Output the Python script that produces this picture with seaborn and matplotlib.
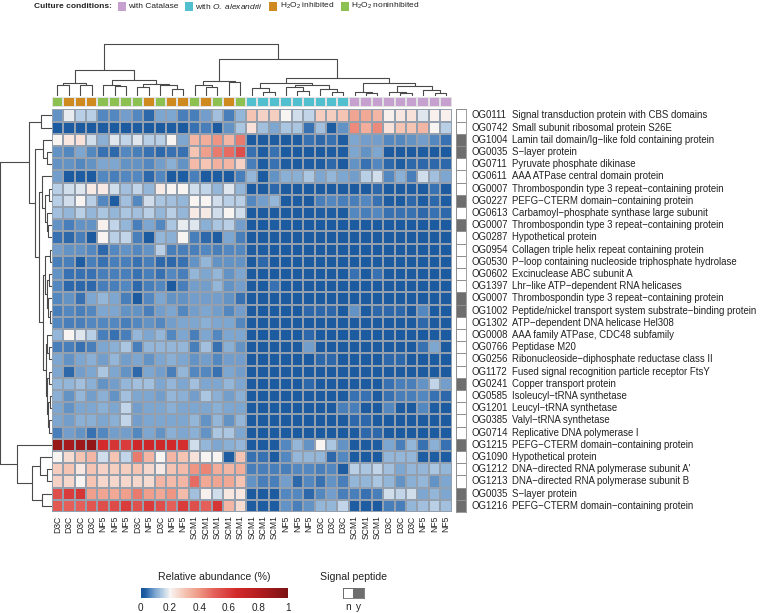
import numpy as np
import pandas as pd
import matplotlib
matplotlib.use("Agg")
import matplotlib.pyplot as plt
import matplotlib.transforms as mtransforms
from matplotlib.patches import Rectangle
from matplotlib.colors import LinearSegmentedColormap, ListedColormap
import seaborn as sns

# ---------------- data ----------------
sample_labels = ["D3C", "D3C", "D3C", "D3C", "NF5", "NF5", "NF5", "D3C", "NF5", "D3C", "NF5", "NF5",
                 "SCM1", "SCM1", "SCM1", "SCM1", "SCM1",
                 "SCM1", "SCM1", "SCM1", "NF5", "NF5", "NF5", "D3C", "D3C", "D3C",
                 "SCM1", "SCM1", "SCM1", "D3C", "D3C", "D3C", "NF5", "NF5", "NF5"]
# 0 = with Catalase, 1 = with O. alexandrii, 2 = H2O2 inhibited, 3 = H2O2 noninhibited
sample_condition = [3, 2, 2, 2, 3, 3, 3, 3, 2, 3, 2, 2,
                    3, 2, 3, 2, 3,
                    1, 1, 1, 1, 1, 1, 1, 1, 1,
                    0, 0, 0, 0, 0, 0, 0, 0, 0]
condition_names = ["with Catalase", r"with $\mathit{O.\ alexandrii}$", r"H$_2$O$_2$ inhibited", r"H$_2$O$_2$ noninhibited"]
condition_colors = ["#c6a1cf", "#52bfcf", "#cf8a1f", "#8cc152"]

og_ids = ["OG0111", "OG0742", "OG1004", "OG0035", "OG0711", "OG0611", "OG0007", "OG0227", "OG0613",
          "OG0007", "OG0287", "OG0954", "OG0530", "OG0602", "OG1397", "OG0007", "OG1002", "OG1302",
          "OG0008", "OG0766", "OG0256", "OG1172", "OG0241", "OG0585", "OG1201", "OG0385", "OG0714",
          "OG1215", "OG1090", "OG1212", "OG1213", "OG0035", "OG1216"]
og_desc = ["Signal transduction protein with CBS domains",
           "Small subunit ribosomal protein S26E",
           "Lamin tail domain/Ig\u2212like fold containing protein",
           "S\u2212layer protein",
           "Pyruvate phosphate dikinase",
           "AAA ATPase central domain protein",
           "Thrombospondin type 3 repeat\u2212containing protein",
           "PEFG\u2212CTERM domain\u2212containing protein",
           "Carbamoyl\u2212phosphate synthase large subunit",
           "Thrombospondin type 3 repeat\u2212containing protein",
           "Hypothetical protein",
           "Collagen triple helix repeat containing protein",
           "P\u2212loop containing nucleoside triphosphate hydrolase",
           "Excinuclease ABC subunit A",
           "Lhr\u2212like ATP\u2212dependent RNA helicases",
           "Thrombospondin type 3 repeat\u2212containing protein",
           "Peptide/nickel transport system substrate\u2212binding protein",
           "ATP\u2212dependent DNA helicase Hel308",
           "AAA family ATPase, CDC48 subfamily",
           "Peptidase M20",
           "Ribonucleoside\u2212diphosphate reductase class II",
           "Fused signal recognition particle receptor FtsY",
           "Copper transport protein",
           "Isoleucyl\u2212tRNA synthetase",
           "Leucyl\u2212tRNA synthetase",
           "Valyl\u2212tRNA synthetase",
           "Replicative DNA polymerase I",
           "PEFG\u2212CTERM domain\u2212containing protein",
           "Hypothetical protein",
           "DNA\u2212directed RNA polymerase subunit A'",
           "DNA\u2212directed RNA polymerase subunit B",
           "S\u2212layer protein",
           "PEFG\u2212CTERM domain\u2212containing protein"]
signal_peptide = [0, 0, 1, 1, 0, 0, 0, 1, 0, 1, 0, 0, 0, 0, 0, 1, 1, 0, 0, 0, 0, 0, 1, 0, 0, 0, 0,
                  1, 0, 0, 0, 1, 1]

# relative abundance (in hundredths), rows in display order
rows_top = [
    [8, 19, 15, 15, 7, 7, 9, 7, 4, 10, 10, 6, 6, 9, 13, 6, 12, 30, 27, 28, 20, 17, 16, 28, 28, 30, 37, 36, 33, 21, 23, 24, 18, 21, 21],
    [2, 2, 2, 2, 3, 2, 2, 3, 2, 2, 3, 2, 5, 6, 2, 8, 14, 24, 13, 10, 14, 14, 5, 13, 3, 8, 42, 35, 42, 24, 30, 30, 33, 20, 15],
    [20, 23, 24, 17, 11, 18, 16, 18, 15, 15, 20, 10, 33, 35, 40, 33, 45, 2, 2, 3, 2, 3, 5, 4, 5, 3, 10, 9, 9, 7, 7, 8, 9, 7, 5],
    [8, 7, 10, 7, 5, 4, 7, 6, 5, 4, 5, 5, 30, 38, 45, 48, 55, 5, 3, 5, 2, 2, 2, 2, 3, 3, 10, 8, 10, 2, 2, 2, 3, 2, 2],
    [8, 8, 7, 8, 10, 10, 8, 8, 7, 9, 11, 8, 32, 30, 34, 33, 27, 6, 3, 5, 3, 2, 3, 3, 4, 2, 8, 5, 7, 4, 3, 4, 4, 4, 4],
    [9, 2, 3, 2, 7, 6, 7, 7, 4, 7, 2, 3, 6, 2, 3, 2, 6, 12, 2, 8, 11, 11, 14, 10, 12, 10, 9, 15, 17, 7, 11, 6, 17, 13, 10],
]
rows_mid = [
    [15, 17, 18, 22, 22, 17, 13, 16, 12, 22, 20, 20, 17, 16, 12, 18, 12, 2, 2, 4, 2, 2, 2, 2, 2, 2, 2, 2, 4, 2, 2, 3, 2, 5, 2],
    [15, 17, 20, 15, 7, 3, 13, 7, 17, 14, 13, 12, 20, 20, 17, 15, 15, 7, 9, 12, 2, 3, 2, 6, 7, 6, 6, 7, 5, 3, 2, 4, 3, 4, 3],
    [13, 12, 15, 12, 14, 12, 14, 13, 15, 12, 15, 12, 22, 22, 17, 20, 17, 2, 2, 2, 2, 2, 2, 3, 3, 2, 7, 6, 7, 5, 5, 5, 4, 5, 4],
    [8, 6, 8, 8, 21, 16, 12, 6, 10, 7, 14, 19, 18, 11, 14, 15, 9, 2, 2, 3, 2, 2, 2, 2, 2, 2, 2, 2, 2, 2, 2, 2, 2, 2, 2],
    [5, 4, 6, 2, 20, 15, 16, 6, 2, 12, 11, 20, 6, 4, 3, 10, 6, 2, 2, 2, 2, 2, 2, 2, 2, 2, 2, 2, 2, 2, 2, 2, 2, 2, 2],
    [9, 8, 8, 7, 4, 7, 8, 7, 8, 15, 6, 6, 6, 7, 6, 7, 7, 3, 3, 2, 2, 2, 2, 2, 2, 2, 2, 2, 2, 2, 2, 2, 2, 2, 2],
    [6, 6, 3, 6, 5, 6, 6, 5, 6, 4, 4, 5, 8, 12, 8, 8, 8, 2, 4, 2, 2, 2, 2, 2, 2, 2, 2, 2, 2, 2, 2, 2, 2, 2, 2],
    [8, 5, 5, 5, 6, 6, 6, 5, 6, 5, 7, 6, 12, 10, 12, 8, 10, 2, 2, 2, 2, 2, 2, 2, 2, 2, 5, 2, 5, 2, 2, 2, 2, 2, 2],
    [7, 4, 4, 4, 6, 6, 7, 4, 6, 7, 2, 6, 9, 9, 12, 8, 9, 2, 2, 5, 2, 2, 2, 2, 2, 2, 2, 2, 2, 2, 2, 2, 2, 2, 2],
    [7, 8, 5, 10, 12, 10, 6, 2, 7, 10, 8, 8, 9, 9, 9, 8, 5, 2, 2, 2, 2, 2, 2, 2, 2, 2, 2, 2, 2, 2, 2, 2, 2, 2, 2],
    [6, 7, 6, 7, 10, 10, 8, 8, 6, 9, 10, 7, 9, 10, 9, 7, 9, 2, 2, 2, 2, 2, 4, 4, 4, 2, 8, 2, 4, 4, 4, 2, 7, 2, 2],
    [7, 6, 6, 7, 7, 7, 6, 7, 8, 7, 9, 10, 10, 11, 10, 10, 7, 2, 2, 2, 2, 2, 2, 2, 2, 2, 2, 2, 2, 2, 2, 2, 4, 2, 2],
    [12, 20, 18, 15, 6, 5, 6, 12, 10, 12, 7, 10, 6, 10, 7, 10, 10, 2, 2, 2, 2, 2, 4, 2, 2, 2, 2, 2, 2, 2, 2, 2, 2, 2, 2],
    [6, 6, 5, 6, 10, 11, 14, 6, 12, 12, 12, 12, 6, 13, 5, 11, 8, 2, 2, 2, 2, 2, 9, 2, 2, 2, 2, 2, 2, 2, 2, 2, 5, 10, 2],
    [10, 8, 10, 11, 9, 12, 9, 10, 8, 10, 11, 10, 8, 9, 7, 9, 9, 2, 2, 2, 2, 2, 2, 4, 4, 2, 2, 2, 2, 4, 4, 2, 2, 2, 2],
    [10, 4, 9, 10, 14, 10, 8, 4, 10, 9, 6, 12, 7, 7, 5, 10, 9, 2, 2, 2, 2, 2, 2, 2, 2, 2, 2, 2, 2, 2, 2, 2, 2, 2, 2],
    [12, 12, 13, 11, 8, 9, 12, 13, 13, 10, 12, 10, 13, 10, 10, 12, 10, 2, 2, 2, 2, 2, 4, 2, 2, 2, 2, 2, 2, 5, 6, 6, 8, 16, 9],
    [11, 8, 12, 9, 11, 8, 13, 10, 10, 9, 12, 11, 9, 14, 11, 9, 11, 2, 2, 2, 2, 2, 2, 2, 2, 2, 5, 5, 2, 5, 6, 6, 7, 5, 4],
    [10, 8, 10, 10, 11, 10, 16, 9, 10, 10, 11, 10, 10, 10, 11, 10, 10, 2, 2, 2, 2, 2, 2, 2, 2, 6, 6, 2, 2, 7, 2, 2, 7, 3, 2],
    [10, 9, 11, 11, 10, 11, 16, 9, 10, 10, 10, 10, 12, 8, 12, 8, 12, 2, 2, 2, 2, 2, 2, 2, 2, 2, 4, 4, 2, 2, 2, 2, 2, 2, 2],
    [6, 9, 8, 5, 7, 9, 9, 7, 10, 8, 11, 10, 11, 8, 14, 14, 10, 2, 2, 2, 2, 2, 2, 2, 2, 2, 2, 4, 4, 2, 2, 2, 2, 2, 2],
]
rows_bottom = [
    [90, 85, 88, 92, 65, 62, 60, 68, 68, 67, 66, 64, 17, 12, 10, 11, 12, 2, 2, 2, 7, 12, 8, 20, 14, 8, 2, 2, 3, 10, 6, 12, 5, 11, 5],
    [20, 25, 30, 33, 17, 30, 16, 45, 33, 20, 33, 30, 24, 20, 20, 3, 30, 5, 5, 2, 7, 12, 12, 12, 4, 7, 2, 2, 2, 12, 12, 12, 3, 3, 3],
    [28, 30, 23, 30, 27, 28, 28, 30, 26, 22, 30, 32, 40, 43, 35, 33, 35, 6, 6, 6, 6, 7, 7, 6, 7, 3, 15, 14, 16, 13, 10, 12, 12, 14, 12],
    [27, 26, 20, 30, 26, 26, 26, 26, 25, 33, 32, 33, 48, 36, 37, 36, 30, 8, 6, 6, 9, 4, 7, 5, 8, 6, 12, 12, 14, 12, 8, 11, 12, 8, 10],
    [55, 60, 62, 38, 37, 36, 38, 45, 38, 36, 40, 32, 13, 21, 17, 23, 23, 2, 2, 2, 7, 7, 4, 7, 9, 6, 6, 5, 6, 17, 16, 17, 10, 12, 10],
    [52, 50, 50, 53, 55, 56, 60, 54, 60, 55, 50, 60, 55, 50, 62, 33, 25, 3, 3, 3, 8, 6, 8, 12, 12, 16, 3, 3, 2, 6, 6, 12, 13, 15, 13],
]

# dendrogram trees: (merge height, left, right); leaves are indices
col_tree = (51.7,
            (25.7, (13.0, (10.7, 0, 1), (10.7, 2, 3)),
                   (15.7, (10.7, 4, (9.7, 5, 6)), (11.7, (9.0, 7, 8), (10.7, 9, (6.3, 10, 11))))),
            (36.3, (15.0, (10.7, 12, (9.0, 13, 14)), (14.0, 15, 16)),
                   (17.3, (12.3, (7.3, 17, (4.0, 18, 19)), (10.7, (8.5, 20, (4.5, 21, 22)), (6.3, 23, (4.0, 24, 25)))),
                          (13.0, (4.0, 26, (3.0, 27, 28)), (9.7, (4.0, 29, (3.0, 30, 31)), (6.0, 32, (3.0, 33, 34)))))))
row_tree = (51.7,
            (22.3, (11.0, 0, 1),
                   (17.0, (9.0, 2, (5.0, 3, 4)),
                          (12.3, (10.0, 5, (7.0, (3.0, 6, 7), (5.0, 8, (4.0, 9, 10)))),
                                 (9.0, (6.5, (2.0, 11, 12), (4.5, (2.5, 13, 14), (3.5, 15, (2.0, 16, 17)))),
                                       (6.0, (4.5, 18, (3.0, 19, 20)),
                                             (4.5, (3.0, 21, 22), (3.5, (1.5, 23, 24), (2.5, 25, 26)))))))),
            (35.0, 27, (20.0, (12.0, 28, (5.0, 29, 30)), (10.0, 31, 32))))

# ---------------- style ----------------
sns.set_theme(style="white")
plt.rcParams["font.family"] = ["Liberation Sans", "DejaVu Sans"]
plt.rcParams["mathtext.fontset"] = "custom"
plt.rcParams["mathtext.rm"] = "Liberation Sans"
plt.rcParams["mathtext.it"] = "Liberation Sans:italic"
plt.rcParams["mathtext.bf"] = "Liberation Sans:bold"
plt.rcParams["mathtext.default"] = "regular"

TXT = "#222222"
W, H = 760, 613
fig = plt.figure(figsize=(W / 100, H / 100), dpi=100)


def add_ax(l, t, w, h):
    return fig.add_axes([l / W, 1 - (t + h) / H, w / W, h / H])


def fx(x):
    return x / W


def fy(y):
    return 1 - y / H


cmap = LinearSegmentedColormap.from_list(
    "abund",
    [(0.0, "#15549a"), (0.03, "#1f5ea3"), (0.06, "#4a80bb"), (0.10, "#80a8d1"), (0.15, "#b9d0e6"),
     (0.20, "#f8f4f2"), (0.30, "#f5c3b2"), (0.40, "#ee9683"), (0.50, "#e4605a"),
     (0.65, "#d32a2b"), (0.80, "#b51d20"), (1.0, "#7c1213")])

values = np.array(rows_top + rows_mid + rows_bottom) / 100.0
df = pd.DataFrame(values, index=og_ids, columns=sample_labels)
n_rows, n_cols = df.shape

HM_L, HM_T, HM_W, HM_H = 51.7, 109.3, 400.0, 402.7

# ---------------- main heatmap ----------------
ax = add_ax(HM_L, HM_T, HM_W, HM_H)
cax = add_ax(140.7, 588, 147, 10)
sns.heatmap(df, ax=ax, cmap=cmap, vmin=0, vmax=1, linewidths=0.25, linecolor="#94a0ad",
            cbar_ax=cax, cbar_kws={"orientation": "horizontal", "ticks": [0, 0.2, 0.4, 0.6, 0.8, 1]},
            xticklabels=sample_labels, yticklabels=False)
ax.set_xlabel("")
ax.set_ylabel("")
ax.tick_params(axis="x", length=0, pad=2.5)
for lab in ax.get_xticklabels():
    lab.set_rotation(90)
    lab.set_va("top")
    lab.set_ha("center")
    lab.set_fontsize(6.2)
    lab.set_color(TXT)

cb = ax.collections[0].colorbar
cb.outline.set_visible(False)
cb.set_ticks([0, 0.2, 0.4, 0.6, 0.8, 1])
cb.set_ticklabels(["0", "0.2", "0.4", "0.6", "0.8", "1"])
cax.tick_params(length=0, pad=3.5, labelsize=7.2, colors=TXT)
fig.text(fx(214.2), fy(577), "Relative abundance (%)", ha="center", va="center", fontsize=7.6, color=TXT)

# ---------------- column annotation ----------------
ann_ax = add_ax(HM_L, 96.7, HM_W, 10)
sns.heatmap(np.array([sample_condition]), ax=ann_ax, cmap=ListedColormap(condition_colors),
            vmin=-0.5, vmax=3.5, cbar=False, linewidths=0.3, linecolor="#e2e2e2",
            xticklabels=False, yticklabels=False)

# ---------------- signal peptide column ----------------
sig_cmap = ListedColormap(["#ffffff", "#6e6e6e"])
sig_ax = add_ax(455.7, HM_T, 10.3, HM_H)
sns.heatmap(np.array(signal_peptide)[:, None], ax=sig_ax, cmap=sig_cmap, vmin=-0.5, vmax=1.5,
            cbar=False, linewidths=0.6, linecolor="#8f8f8f", xticklabels=False, yticklabels=False)
for s in ["left", "right", "top", "bottom"]:
    sig_ax.spines[s].set_visible(True)
    sig_ax.spines[s].set_color("#8f8f8f")
    sig_ax.spines[s].set_linewidth(0.6)

# row labels
trans = mtransforms.blended_transform_factory(fig.transFigure, sig_ax.transData)
for i, (oid, desc) in enumerate(zip(og_ids, og_desc)):
    sig_ax.text(fx(471.0), i + 0.5, oid, transform=trans, ha="left", va="center",
                fontsize=6.95, color=TXT)
    sig_ax.text(fx(512.5), i + 0.5, desc, transform=trans, ha="left", va="center",
                fontsize=6.95, color=TXT)

# signal peptide legend
sl_ax = add_ax(342.7, 588, 21.3, 10)
sns.heatmap(np.array([[0, 1]]), ax=sl_ax, cmap=sig_cmap, vmin=-0.5, vmax=1.5, cbar=False,
            linewidths=0.6, linecolor="#6e6e6e", xticklabels=["n", "y"], yticklabels=False)
for s in ["left", "right", "top", "bottom"]:
    sl_ax.spines[s].set_visible(True)
    sl_ax.spines[s].set_color("#6e6e6e")
    sl_ax.spines[s].set_linewidth(0.6)
sl_ax.tick_params(axis="x", length=0, pad=3.0, labelsize=7.2, colors=TXT)
for lab in sl_ax.get_xticklabels():
    lab.set_rotation(0)
fig.text(fx(353.3), fy(577), "Signal peptide", ha="center", va="center", fontsize=7.6, color=TXT)

# ---------------- dendrograms ----------------
DCOL = "#4a4a4a"


def draw_tree(axd, node, orient):
    if isinstance(node, int):
        return node + 0.5, 0.0
    h, a, b = node
    pa, ha = draw_tree(axd, a, orient)
    pb, hb = draw_tree(axd, b, orient)
    if orient == "top":
        axd.plot([pa, pa, pb, pb], [ha, h, h, hb], color=DCOL, lw=0.8, solid_capstyle="butt")
    else:
        axd.plot([ha, h, h, hb], [pa, pa, pb, pb], color=DCOL, lw=0.8, solid_capstyle="butt")
    return (pa + pb) / 2, h


cd_ax = add_ax(HM_L, 40.0, HM_W, 55.7)
draw_tree(cd_ax, col_tree, "top")
cd_ax.set_xlim(0, n_cols)
cd_ax.set_ylim(0, 55.7)
cd_ax.axis("off")

rd_ax = add_ax(0.0, HM_T, HM_L, HM_H)
draw_tree(rd_ax, row_tree, "left")
rd_ax.set_xlim(HM_L, 0)
rd_ax.set_ylim(n_rows, 0)
rd_ax.axis("off")

# ---------------- top legend (laid out left to right) ----------------
renderer = fig.canvas.get_renderer()
LEG_FS = 6.0
x = 34.0
t = fig.text(fx(x), fy(6.2), "Culture conditions:", ha="left", va="center", fontweight="bold",
             fontsize=LEG_FS, color=TXT)
x += t.get_window_extent(renderer).width + 6.0
for name, col in zip(condition_names, condition_colors):
    fig.patches.append(Rectangle((fx(x), fy(11.0)), 8.0 / W, 9.3 / H, transform=fig.transFigure,
                                 facecolor=col, edgecolor="none"))
    t = fig.text(fx(x + 10.6), fy(6.2), name, ha="left", va="center", fontsize=LEG_FS, color=TXT)
    x += 10.6 + t.get_window_extent(renderer).width + 6.0

fig.savefig("out.png", dpi=100, facecolor="white")
